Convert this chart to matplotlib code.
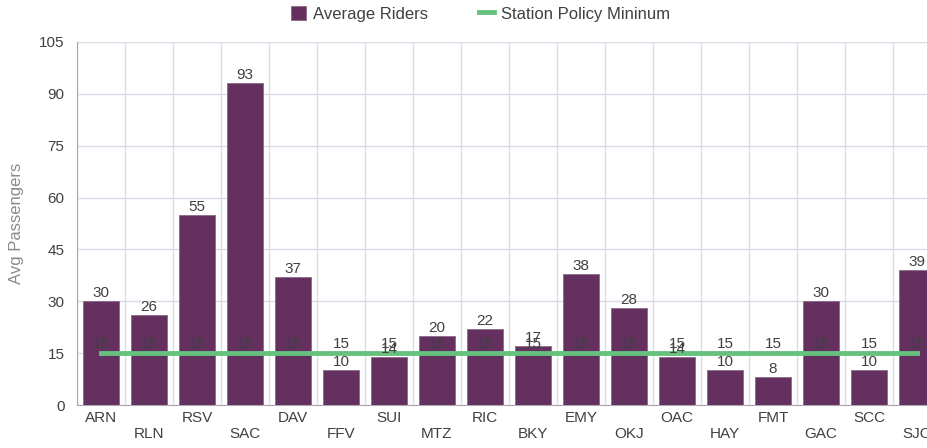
import matplotlib.pyplot as plt
import numpy as np

plt.rcParams['font.family'] = ['Liberation Sans', 'DejaVu Sans']

# data
stations = ['ARN', 'RLN', 'RSV', 'SAC', 'DAV', 'FFV', 'SUI', 'MTZ', 'RIC',
            'BKY', 'EMY', 'OKJ', 'OAC', 'HAY', 'FMT', 'GAC', 'SCC', 'SJC']
avg_riders = [30, 26, 55, 93, 37, 10, 14, 20, 22, 17, 38, 28, 14, 10, 8, 30, 10, 39]
policy_min = [15] * len(stations)

purple = '#63305f'
green = '#66c17f'
text_col = '#404040'
grid_col = '#d9dce6'
fs = 11

fig = plt.figure(figsize=(9.28, 4.48), dpi=100)
# axes runs a bit past the right edge, like the original
ax = fig.add_axes([77 / 928, 43 / 448, 864 / 928, 363 / 448])

x = np.arange(len(stations))
bars = ax.bar(x, avg_riders, width=0.75, color=purple, edgecolor='#8a6a88',
              linewidth=0.6, zorder=2, label='Average Riders')
line, = ax.plot(x, policy_min, color=green, linewidth=3.5, zorder=3,
                label='Station Policy Mininum')

for xi, v in zip(x, avg_riders):
    ax.text(xi, v + 0.3, str(v), ha='center', va='bottom', fontsize=fs,
            color=text_col, zorder=4)
for xi, v in zip(x, policy_min):
    ax.text(xi, v + 0.5, str(v), ha='center', va='bottom', fontsize=fs,
            color=text_col, zorder=4)

ax.set_xlim(-0.5, len(stations) - 0.5)
ax.set_ylim(0, 105)
ax.set_yticks(np.arange(0, 106, 15))
ax.tick_params(axis='y', length=0, labelsize=fs, labelcolor=text_col, pad=9)

# staggered category labels
ax.set_xticks(x)
ax.set_xticklabels([])
ax.tick_params(axis='x', length=0)
for i, name in enumerate(stations):
    off = -4 if i % 2 == 0 else -15.5
    ax.annotate(name, (i, 0), xytext=(0, off), textcoords='offset points',
                ha='center', va='top', fontsize=fs, color=text_col,
                annotation_clip=False)

# vertical grid at category boundaries, horizontal at ticks
ax.set_xticks(np.arange(-0.5, len(stations), 1), minor=True)
ax.tick_params(axis='x', which='minor', length=0)
ax.grid(True, which='minor', axis='x', color=grid_col, linewidth=1, zorder=0)
ax.grid(True, which='major', axis='y', color=grid_col, linewidth=1, zorder=0)
ax.set_axisbelow(True)

for s in ['top', 'right']:
    ax.spines[s].set_visible(False)
ax.spines['left'].set_color('#a8a8a8')
ax.spines['bottom'].set_color('#a8a8a8')

ax.set_ylabel('Avg Passengers', fontsize=12, color='#8a8a8a', labelpad=11)

leg = fig.legend([bars, line], ['Average Riders', 'Station Policy Mininum'],
                 loc='upper center', bbox_to_anchor=(0.518, 1.02), ncol=2,
                 frameon=False, fontsize=12, handlelength=0.9,
                 handleheight=0.9, handletextpad=0.4, columnspacing=3.06)
for t in leg.get_texts():
    t.set_color(text_col)

fig.savefig('out.png', dpi=100)
